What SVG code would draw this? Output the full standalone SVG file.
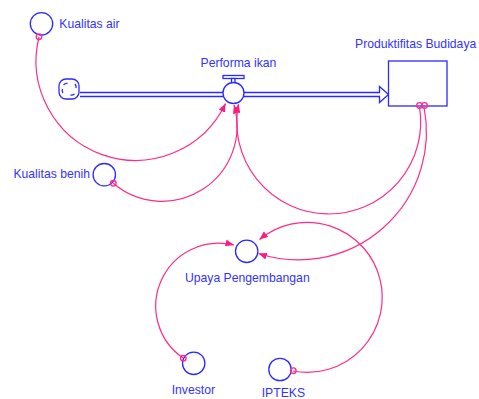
<svg xmlns="http://www.w3.org/2000/svg" width="479" height="399" viewBox="0 0 479 399">
<style>
.lbl{font-family:"Liberation Sans",Arial,sans-serif;font-size:12.2px;fill:#3333ff}
.node{fill:#ffffff;stroke:#2a2aff;stroke-width:1.3}
.flow{stroke:#2a2aff;stroke-width:1.3;fill:none}
.link{fill:none;stroke:#ff2a8a;stroke-width:1.2;marker-end:url(#ah)}
.src{fill:none;stroke:#ff2a8a;stroke-width:1.3}
</style>
<defs>
<marker id="ah" markerUnits="userSpaceOnUse" markerWidth="9" markerHeight="7" refX="8.5" refY="3.5" orient="auto">
<path d="M0,0 L8.5,3.5 L0,7 z" fill="#ff1a80"/>
</marker>
</defs>
<rect width="479" height="399" fill="#ffffff"/>

<g id="flow-performa-ikan">
<line class="flow" x1="80" y1="92.5" x2="380" y2="92.5"/>
<line class="flow" x1="80" y1="96.5" x2="380" y2="96.5"/>
<path class="flow" d="M379.5,92.5 L379.5,86.5 L388.5,94.5 L379.5,102.5 L379.5,96.5" fill="#ffffff"/>
<rect class="node" x="223" y="75.5" width="21" height="3"/>
<rect class="node" x="231.5" y="78.5" width="3.5" height="4.5"/>
<circle class="node" cx="233.5" cy="93" r="10.5"/>
<text class="lbl" x="200.5" y="66.5">Performa ikan</text>
</g>

<g id="cloud">
<rect class="node" x="59" y="79" width="20" height="20" rx="7"/>
<path class="flow" d="M63.5,85 q2,-2 4,-1.5 M75,84 q1.5,2 1,4 M74.5,94 q-2,1.5 -4,1 M63,93 q-1.5,-2 -0.5,-4"/>
</g>

<g id="produktifitas-budidaya">
<rect class="node" x="388.5" y="61" width="58.5" height="45"/>
<text class="lbl" x="355" y="48">Produktifitas Budidaya</text>
</g>

<g id="kualitas-air">
<circle class="node" cx="41.5" cy="23.8" r="11.2"/>
<text class="lbl" x="59.3" y="28.3">Kualitas air</text>
</g>

<g id="kualitas-benih">
<circle class="node" cx="104.3" cy="174.7" r="11.2"/>
<text class="lbl" x="90" y="177.5" text-anchor="end">Kualitas benih</text>
</g>

<g id="upaya-pengembangan">
<circle class="node" cx="246.7" cy="251.3" r="11.2"/>
<text class="lbl" x="185" y="281.7">Upaya Pengembangan</text>
</g>

<g id="investor">
<circle class="node" cx="193.7" cy="363.3" r="11.2"/>
<text class="lbl" x="171.7" y="394">Investor</text>
</g>

<g id="ipteks">
<circle class="node" cx="280" cy="369.5" r="11.2"/>
<text class="lbl" x="261.7" y="396.7">IPTEKS</text>
</g>

<g id="connectors">
<path class="link" d="M39,37 A99.5,99.5 0 0 0 225.5,103.5"/>
<path class="link" d="M113,183 A75,75 0 0 0 234,105"/>
<path class="link" d="M419.5,107 A92,92 0 1 1 238.5,104"/>
<path class="link" d="M424,107 A128,128 0 0 1 258.5,253.5"/>
<path class="link" d="M183,358 A63,63 0 0 1 234,245"/>
<path class="link" d="M293,371 A75,75 0 1 0 259.5,239.5"/>
<circle class="src" cx="39" cy="36.7" r="2.8"/>
<circle class="src" cx="113.3" cy="183.3" r="2.8"/>
<circle class="src" cx="419.5" cy="105.5" r="2.8"/>
<circle class="src" cx="424.5" cy="105.5" r="2.8"/>
<circle class="src" cx="183.3" cy="358.3" r="2.8"/>
<circle class="src" cx="293.3" cy="370.7" r="2.8"/>
</g>
</svg>
